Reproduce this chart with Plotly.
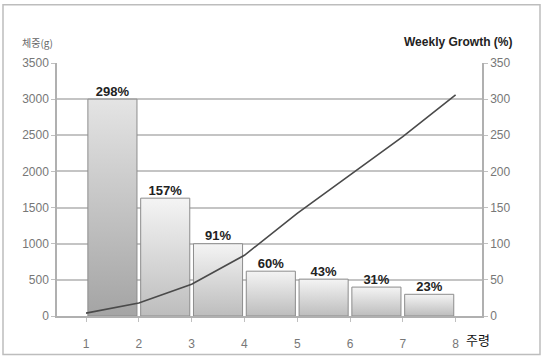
import plotly.graph_objects as go

weeks = [1, 2, 3, 4, 5, 6, 7, 8]
line_weight = [40, 180, 440, 840, 1420, 1950, 2480, 3060]
bar_pos = [1.5, 2.5, 3.5, 4.5, 5.5, 6.5, 7.5]
bar_values = [3000, 1630, 1000, 620, 510, 400, 300]
growth_labels = ["298%", "157%", "91%", "60%", "43%", "31%", "23%"]
left_ticks = [0, 500, 1000, 1500, 2000, 2500, 3000, 3500]
right_ticks = [0, 50, 100, 150, 200, 250, 300, 350]

BAR_W = 0.93
fig = go.Figure()

for i, (c, v) in enumerate(zip(bar_pos, bar_values)):
    x0, x1 = c - BAR_W / 2, c + BAR_W / 2
    if i == 0:
        cs = [[0, "#a4a4a4"], [1, "#e4e4e4"]]
    else:
        cs = [[0, "#bdbdbd"], [1, "#f4f4f4"]]
    fig.add_trace(go.Scatter(
        x=[x0, x0, x1, x1, x0], y=[0, v, v, 0, 0],
        mode="lines", fill="toself",
        fillgradient=dict(type="vertical", colorscale=cs),
        line=dict(color="#8c8c8c", width=1),
        hoverinfo="skip", showlegend=False))

fig.add_trace(go.Scatter(
    x=bar_pos, y=bar_values, mode="text", text=growth_labels,
    textposition="top center",
    textfont=dict(family="Arial, Liberation Sans", size=13, color="#222222", weight="bold"),
    showlegend=False, hoverinfo="skip"))

fig.add_trace(go.Scatter(
    x=weeks, y=line_weight, mode="lines",
    line=dict(color="#4a4a4a", width=1.6),
    showlegend=False))

# invisible trace to activate right axis
fig.add_trace(go.Scatter(x=[weeks[0]], y=[0], yaxis="y2", mode="markers",
                         marker=dict(opacity=0), showlegend=False, hoverinfo="skip"))

tickfont = dict(family="Arial, Liberation Sans", size=12, color="#777777")

PW, PH = 425.0, 256.0
L, T = 57, 63
BOTTOM = T + PH


def px(xp):
    return (xp - L) / PW


def py(yp):
    return (BOTTOM - yp) / PH


fig.update_layout(
    width=544, height=363,
    margin=dict(l=57, r=62, t=63, b=44),
    paper_bgcolor="white", plot_bgcolor="white",
    xaxis=dict(range=[0.45, 8.5], tickvals=weeks, ticktext=[str(w) for w in weeks],
               tickfont=tickfont, showgrid=False, zeroline=False,
               showline=True, linecolor="#b0b0b0", linewidth=1.5,
               ticks="outside", ticklen=4, tickcolor="#c0c0c0",
               ticklabelstandoff=12),
    yaxis=dict(range=[0, 3500], tickvals=left_ticks, tickfont=tickfont,
               showgrid=True, gridcolor="#c4c4c4", gridwidth=1.5,
               zeroline=False, showline=True, linecolor="#b0b0b0", linewidth=1.5,
               ticks="outside", ticklen=4, tickcolor="#c0c0c0"),
    yaxis2=dict(range=[0, 350], tickvals=right_ticks, tickfont=tickfont,
                overlaying="y", side="right", showgrid=False, zeroline=False,
                showline=True, linecolor="#b0b0b0", linewidth=1.5,
                ticks="outside", ticklen=4, tickcolor="#c0c0c0"),
    shapes=[dict(type="rect", xref="paper", yref="paper",
                 x0=px(3), x1=px(540), y0=py(358), y1=py(4),
                 line=dict(color="#bdbdbd", width=1.5), fillcolor="rgba(0,0,0,0)",
                 layer="below")],
    annotations=[
        dict(text="체중(g)", xref="paper", yref="paper", x=px(37), y=py(42),
             xanchor="center", yanchor="middle",
             showarrow=False, font=dict(family="Noto Sans CJK KR", size=10, color="#666666")),
        dict(text="<b>Weekly Growth (%)</b>", xref="paper", yref="paper",
             x=px(458), y=py(42), xanchor="center", yanchor="middle", showarrow=False,
             font=dict(family="Arial, Liberation Sans", size=12, color="#222222")),
        dict(text="주령", xref="paper", yref="paper", x=px(478), y=py(343),
             xanchor="center", yanchor="middle",
             showarrow=False, font=dict(family="Noto Sans CJK KR", size=13, color="#111111")),
    ],
)

fig.write_html("out.html")
